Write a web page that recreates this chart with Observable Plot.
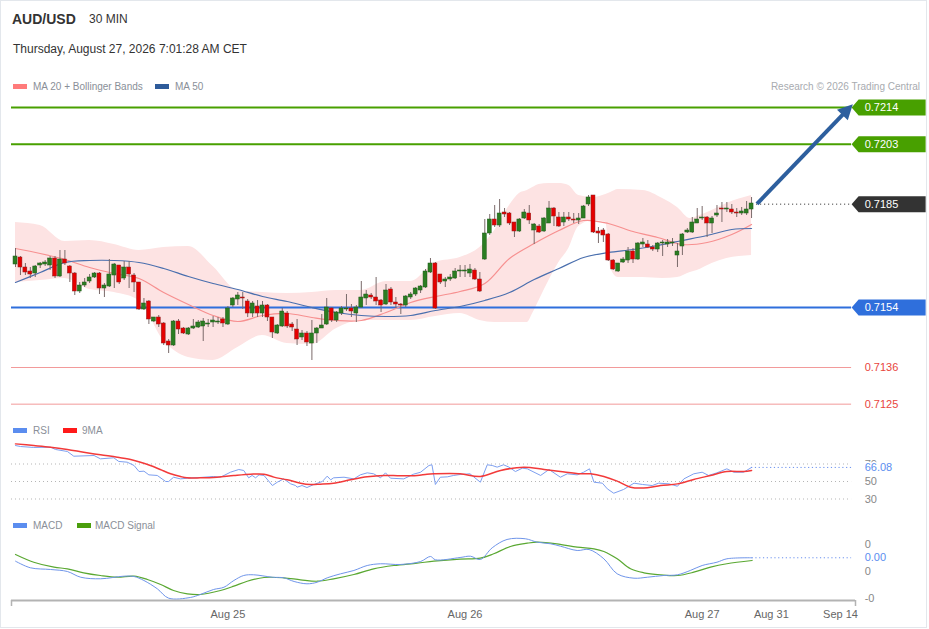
<!DOCTYPE html>
<html><head><meta charset="utf-8">
<script src="https://cdn.jsdelivr.net/npm/d3@7"></script>
<script src="https://cdn.jsdelivr.net/npm/@observablehq/plot@0.6"></script>
<style>
body{margin:0;background:#fff;font-family:"Liberation Sans",Arial,sans-serif;}
#wrap{position:relative;width:929px;height:629px;overflow:hidden;background:#fff;}
#frame{position:absolute;left:0;top:0;width:925px;height:626px;border:1px solid #e3e7ec;}
.t{position:absolute;white-space:nowrap;line-height:1;}
.sw{position:absolute;width:14px;height:5px;}
.panel{position:absolute;left:0;}
</style></head><body>
<div id="wrap">
  <div id="frame"></div>
  <div class="t" style="left:12px;top:12px;font-size:14px;font-weight:bold;color:#333">AUD/USD</div>
  <div class="t" style="left:89px;top:13px;font-size:12px;color:#333">30 MIN</div>
  <div class="t" style="left:13px;top:43px;font-size:12px;color:#333">Thursday, August 27, 2026 7:01:28 AM CET</div>
  <div class="sw" style="left:13px;top:84px;background:#ff7b7b"></div>
  <div class="t" style="left:33px;top:81.5px;font-size:10px;color:#8a8f98">MA 20 + Bollinger Bands</div>
  <div class="sw" style="left:155px;top:84px;background:#2e5b9a"></div>
  <div class="t" style="left:175px;top:81.5px;font-size:10px;color:#8a8f98">MA 50</div>
  <div class="t" style="right:9px;top:81.5px;font-size:10px;color:#a8abb0">Research © 2026 Trading Central</div>
  <div class="sw" style="left:13px;top:428px;background:#5b8def"></div>
  <div class="t" style="left:33px;top:425.5px;font-size:10px;color:#8a8f98">RSI</div>
  <div class="sw" style="left:63px;top:428px;background:#ff1a1a"></div>
  <div class="t" style="left:82px;top:425.5px;font-size:10px;color:#8a8f98">9MA</div>
  <div class="sw" style="left:13px;top:523px;background:#5b8def"></div>
  <div class="t" style="left:33px;top:520.5px;font-size:10px;color:#8a8f98">MACD</div>
  <div class="sw" style="left:77px;top:523px;background:#4a9e0c"></div>
  <div class="t" style="left:95px;top:520.5px;font-size:10px;color:#8a8f98">MACD Signal</div>
  <div id="main" class="panel" style="top:95px"></div>
  <div id="rsi" class="panel" style="top:440px"></div>
  <div id="macd" class="panel" style="top:530px"></div>
</div>
<script>
// ---------- DATA ----------
const opens = [
0.71669,0.71690,0.71660,0.71648,0.71642,0.71666,0.71669,0.71666,0.71687,0.71633,
0.71684,0.71663,0.71642,0.71588,0.71606,0.71618,0.71630,0.71642,0.71597,0.71603,
0.71636,0.71666,0.71627,0.71660,0.71636,0.71615,0.71534,0.71558,0.71498,0.71510,
0.71492,0.71438,0.71426,0.71498,0.71477,0.71459,0.71477,0.71480,0.71483,0.71489,
0.71495,0.71495,0.71504,0.71489,0.71546,0.71564,0.71570,0.71558,0.71522,0.71543,
0.71522,0.71546,0.71510,0.71462,0.71483,0.71522,0.71489,0.71474,0.71450,0.71462,
0.71432,0.71462,0.71477,0.71489,0.71537,0.71501,0.71522,0.71534,0.71537,0.71522,
0.71540,0.71567,0.71576,0.71570,0.71561,0.71549,0.71594,0.71555,0.71549,0.71546,
0.71570,0.71579,0.71591,0.71600,0.71645,0.71672,0.71639,0.71618,0.71624,0.71627,
0.71648,0.71648,0.71642,0.71651,0.71624,0.71684,0.71762,0.71804,0.71786,0.71825,
0.71822,0.71795,0.71768,0.71807,0.71822,0.71771,0.71783,0.71768,0.71792,0.71837,
0.71810,0.71795,0.71810,0.71804,0.71801,0.71807,0.71849,0.71876,0.71768,0.71771,
0.71759,0.71681,0.71648,0.71675,0.71681,0.71708,0.71684,0.71729,0.71729,0.71720,
0.71714,0.71732,0.71729,0.71732,0.71696,0.71723,0.71765,0.71765,0.71792,0.71807,
0.71810,0.71792,0.71816,0.71837,0.71834,0.71834,0.71825,0.71822,0.71822,0.71834];
const highs = [
0.71717,0.71693,0.71672,0.71660,0.71666,0.71675,0.71681,0.71693,0.71693,0.71711,
0.71711,0.71666,0.71645,0.71615,0.71627,0.71639,0.71645,0.71645,0.71612,0.71684,
0.71672,0.71666,0.71678,0.71678,0.71642,0.71615,0.71567,0.71561,0.71510,0.71516,
0.71495,0.71444,0.71501,0.71504,0.71480,0.71480,0.71504,0.71501,0.71507,0.71504,
0.71513,0.71510,0.71510,0.71543,0.71570,0.71585,0.71585,0.71564,0.71558,0.71561,
0.71558,0.71549,0.71510,0.71489,0.71537,0.71528,0.71495,0.71504,0.71471,0.71468,
0.71501,0.71480,0.71519,0.71567,0.71540,0.71528,0.71543,0.71579,0.71549,0.71546,
0.71618,0.71591,0.71582,0.71630,0.71564,0.71609,0.71600,0.71570,0.71552,0.71576,
0.71585,0.71600,0.71606,0.71654,0.71687,0.71675,0.71639,0.71630,0.71639,0.71657,
0.71666,0.71666,0.71669,0.71657,0.71645,0.71804,0.71819,0.71846,0.71864,0.71837,
0.71825,0.71795,0.71807,0.71834,0.71846,0.71792,0.71789,0.71810,0.71858,0.71840,
0.71825,0.71825,0.71825,0.71822,0.71822,0.71846,0.71876,0.71876,0.71780,0.71777,
0.71762,0.71684,0.71672,0.71690,0.71720,0.71717,0.71735,0.71747,0.71741,0.71726,
0.71735,0.71741,0.71744,0.71747,0.71732,0.71762,0.71777,0.71810,0.71837,0.71843,
0.71813,0.71813,0.71846,0.71855,0.71855,0.71849,0.71837,0.71840,0.71858,0.71870];
const lows = [
0.71660,0.71636,0.71636,0.71627,0.71630,0.71657,0.71663,0.71651,0.71627,0.71630,
0.71666,0.71615,0.71576,0.71582,0.71600,0.71612,0.71627,0.71579,0.71570,0.71600,
0.71597,0.71609,0.71621,0.71597,0.71585,0.71531,0.71531,0.71489,0.71495,0.71480,
0.71426,0.71402,0.71423,0.71459,0.71459,0.71456,0.71474,0.71477,0.71438,0.71480,
0.71480,0.71489,0.71480,0.71486,0.71540,0.71546,0.71534,0.71510,0.71510,0.71510,
0.71510,0.71498,0.71447,0.71459,0.71480,0.71477,0.71468,0.71426,0.71441,0.71423,
0.71381,0.71432,0.71477,0.71486,0.71495,0.71495,0.71516,0.71528,0.71510,0.71495,
0.71537,0.71546,0.71564,0.71546,0.71525,0.71546,0.71546,0.71537,0.71519,0.71540,
0.71564,0.71573,0.71582,0.71597,0.71642,0.71534,0.71609,0.71600,0.71618,0.71624,
0.71630,0.71630,0.71630,0.71621,0.71585,0.71681,0.71756,0.71780,0.71780,0.71810,
0.71786,0.71750,0.71765,0.71804,0.71789,0.71729,0.71762,0.71765,0.71792,0.71783,
0.71780,0.71783,0.71798,0.71792,0.71789,0.71807,0.71843,0.71762,0.71732,0.71735,
0.71678,0.71651,0.71645,0.71672,0.71672,0.71672,0.71681,0.71720,0.71717,0.71708,
0.71705,0.71693,0.71720,0.71723,0.71660,0.71696,0.71762,0.71762,0.71792,0.71801,
0.71750,0.71762,0.71810,0.71795,0.71825,0.71819,0.71810,0.71816,0.71816,0.71807];
const closes = [
0.71693,0.71660,0.71645,0.71639,0.71663,0.71672,0.71675,0.71687,0.71633,0.71684,
0.71672,0.71642,0.71588,0.71606,0.71615,0.71630,0.71642,0.71597,0.71606,0.71639,
0.71669,0.71615,0.71660,0.71639,0.71615,0.71534,0.71552,0.71504,0.71510,0.71489,
0.71432,0.71426,0.71498,0.71474,0.71462,0.71477,0.71483,0.71495,0.71498,0.71492,
0.71501,0.71498,0.71492,0.71537,0.71567,0.71576,0.71567,0.71522,0.71552,0.71522,
0.71546,0.71510,0.71465,0.71486,0.71528,0.71483,0.71480,0.71444,0.71462,0.71435,
0.71462,0.71477,0.71486,0.71540,0.71501,0.71525,0.71537,0.71537,0.71528,0.71540,
0.71570,0.71579,0.71570,0.71558,0.71546,0.71591,0.71555,0.71549,0.71546,0.71573,
0.71579,0.71597,0.71603,0.71648,0.71672,0.71537,0.71615,0.71624,0.71630,0.71648,
0.71651,0.71651,0.71654,0.71624,0.71588,0.71762,0.71804,0.71786,0.71822,0.71819,
0.71792,0.71768,0.71804,0.71825,0.71801,0.71789,0.71765,0.71807,0.71837,0.71813,
0.71783,0.71810,0.71804,0.71801,0.71807,0.71843,0.71870,0.71765,0.71762,0.71756,
0.71681,0.71654,0.71672,0.71684,0.71708,0.71684,0.71732,0.71735,0.71720,0.71714,
0.71732,0.71735,0.71735,0.71735,0.71708,0.71759,0.71771,0.71795,0.71804,0.71810,
0.71792,0.71807,0.71822,0.71834,0.71837,0.71825,0.71822,0.71828,0.71834,0.71852];

// moving averages, read at every 5th candle
const maIdx = [0,5,10,15,20,25,30,35,40,45,50,55,60,65,70,75,80,85,90,95,100,105,110,115,120,125,130,135,140,145,149];
const ma20 = [0.71717,0.71702,0.71684,0.71660,0.71642,0.71627,0.71585,0.71549,0.71516,0.71498,0.71516,0.71522,0.71510,0.71501,0.71501,0.71525,0.71555,0.71573,0.71588,0.71612,0.71687,0.71732,0.71771,0.71801,0.71792,0.71768,0.71750,0.71729,0.71735,0.71759,0.71789];
const ma50 = [0.71615,0.71645,0.71675,0.71681,0.71681,0.71675,0.71657,0.71633,0.71612,0.71594,0.71573,0.71558,0.71540,0.71525,0.71516,0.71513,0.71516,0.71531,0.71543,0.71561,0.71585,0.71624,0.71657,0.71690,0.71705,0.71714,0.71726,0.71741,0.71756,0.71774,0.71777];

// Bollinger band edges
const bbIdx = [0,5,10,15,20,25,30,35,40,45,50,55,60,65,70,75,80,85,90,94,97,100,102,103.6,104.7,106,108,110,112,114,117,119.5,120.5,122,127,131,134,136.6,138,141,144,149];
const bbUpper = [0.71795,0.71786,0.71738,0.71741,0.71729,0.71711,0.71720,0.71723,0.71663,0.71591,0.71585,0.71582,0.71585,0.71591,0.71591,0.71618,0.71618,0.71675,0.71690,0.71720,0.71771,0.71846,0.71882,0.71891,0.71900,0.71909,0.71912,0.71912,0.71906,0.71876,0.71870,0.71879,0.71885,0.71894,0.71891,0.71867,0.71840,0.71807,0.71813,0.71831,0.71852,0.71876];
const bbLower = [0.71615,0.71621,0.71627,0.71594,0.71585,0.71561,0.71441,0.71390,0.71381,0.71420,0.71456,0.71432,0.71429,0.71477,0.71501,0.71501,0.71501,0.71513,0.71522,0.71501,0.71495,0.71495,0.71495,0.71495,0.71522,0.71561,0.71621,0.71675,0.71717,0.71783,0.71801,0.71795,0.71657,0.71630,0.71630,0.71627,0.71630,0.71645,0.71651,0.71672,0.71687,0.71696];

// horizontal levels
const levelValues = [0.7214, 0.7203, 0.7185, 0.7154, 0.7136, 0.7125];
const levelLabels = ["0.7214", "0.7203", "0.7185", "0.7154", "0.7136", "0.7125"];
const levelKinds  = ["target", "target", "last", "pivot", "support", "support"];

// forecast arrow (candle index, price)
const arrowFrom = [150.1, 0.71851];
const arrowTo   = [169.5, 0.72150];

// RSI and its 9-period MA
const rsiIdx = [0,1,3.7,7.1,8.1,10.5,11.8,15.9,17.2,19.9,20.9,22.6,24,25,26,27,28.7,30.4,31,32,33.4,34.8,37.4,40.1,41.5,43.5,45.2,46.2,47.2,47.9,48.6,49.3,50.3,52,53,54.3,55.7,56.7,57,58,59,60.4,62.1,63.1,63.8,64.4,66.5,68.5,69.8,71.2,72.5,73.9,74.9,75.9,78.6,80.6,82,83.7,84.3,85,86,87.4,88.7,90,92,94.1,95.5,96.5,97.5,98.8,99.9,101.2,102.6,103.6,106.3,108,110.3,111.7,113.7,115,116.2,117.1,118.8,119.8,121.1,123.1,125.2,126.9,128.9,130.2,132.3,134,135.3,137.3,139,140.3,142,144,145.4,147.4,149];
const rsiVal = [91.1,90.0,88.9,89.2,86.6,84.3,78.9,79.7,75.9,77.1,72.9,72.1,68.3,61.4,61.8,57.6,56.9,50,50,54.9,53,53.8,54.6,55.7,54.9,60.6,63.7,62.6,54.2,56.9,54.2,57.6,56.9,45.4,49.2,53,47.3,45.4,43.5,45.4,43.1,46.6,50,56.1,51.9,54.2,54.9,53,57.6,59.9,58.8,54.2,59.9,53.8,53,58.4,60.6,68.3,69.1,46.6,54.9,55.3,56.9,58,58.8,49.2,69.1,68.3,66.4,69.1,66.4,61.4,65.2,64.5,56.9,63.7,54.9,58.8,57.6,60.6,64.5,49.2,48.1,41.6,36.6,40.9,48.1,46.6,45.4,48.1,47.3,44.6,53,58.8,60.6,56.9,59.9,64.5,60.6,60.6,66.08];
const rsiMaIdx = [0,3.7,7.1,10.5,13.8,17.2,20.6,23.3,25.3,27.3,29.3,31.4,33.4,34.7,37.4,40.8,44.2,47.6,50.3,52.3,55,57.7,59.7,61.7,64.4,67.8,71.2,74.6,77.9,81.3,83.3,84.7,90,94.1,98.2,102.9,107,110.3,114.4,116.4,119.1,121.8,124.5,127.9,130.6,134,137.3,140.7,144,147.4,149];
const rsiMaVal = [93.0,91.1,89.2,86.6,83.5,80.5,77.8,75.1,72.1,68.3,63.7,58.8,55.7,54.2,54.2,55.0,56.9,58.4,58.4,55.0,51.9,48.1,46.6,47.0,48.1,51.9,55.3,56.9,56.5,56.9,58.4,58.8,58.8,55.7,62.6,66.4,63.7,61.4,58.8,58.8,55.7,50.4,43.5,42.8,45.4,47.3,52.3,56.9,61.4,61.4,62.6];
const rsiTicks = [70, 50, 30];
const rsiTickLabels = ["70", "50", "30"];
const rsiLastLabel = "66.08";

// MACD and signal
const macdIdx = [0,3,7.1,10.5,13.2,17.2,21.9,24,26,28.7,31,35.4,37.4,40.1,42.2,44.2,46.2,48.2,52,54.3,56.4,59,61.1,63.1,65.8,68.5,71.2,73.9,77.9,82,84,85,90,92.1,94.1,96.5,99.5,103.2,105.6,108.3,110.3,113.7,116.1,119.1,121.8,125.2,127.9,131.2,134,136.6,139,142,144,149.1];
const macdVal = [1.91e-4,0.69e-4,0.37e-4,0,-1.06e-4,-1.35e-4,-0.87e-4,-0.93e-4,-1.67e-4,-3.2e-4,-4.94e-4,-4.81e-4,-4.26e-4,-3.33e-4,-2.91e-4,-1.67e-4,-0.74e-4,-0.61e-4,-1.06e-4,-1.17e-4,-1.85e-4,-2.28e-4,-1.98e-4,-1.17e-4,-0.43e-4,0.19e-4,1.11e-4,1.43e-4,1.3e-4,1.85e-4,2.78e-4,2.17e-4,2.59e-4,2.83e-4,2.22e-4,4.39e-4,5.93e-4,6.06e-4,5.43e-4,5.13e-4,4.69e-4,3.89e-4,4.07e-4,2.35e-4,-0.43e-4,-1.24e-4,-1.06e-4,-0.74e-4,-0.61e-4,0.19e-4,1.11e-4,1.72e-4,2.35e-4,2.54e-4];
const sigIdx = [0,3.7,7.8,10.5,13.8,17.2,20.6,24,26.7,29.4,32,34.8,37.4,41.5,44.2,46.9,50.3,54.3,57.7,61.1,64.4,68.5,72.5,76.6,81.3,84.7,90,94.1,96.8,100.2,103.6,105.6,109.6,113.7,117.1,119.1,121.8,124.5,127.2,130.6,134,137.3,140.7,144,149.1];
const sigVal = [3.15e-4,1.72e-4,0.8e-4,0.5e-4,-0.24e-4,-0.74e-4,-1.06e-4,-0.87e-4,-1.48e-4,-2.41e-4,-3.52e-4,-4.13e-4,-4.26e-4,-3.52e-4,-2.72e-4,-1.8e-4,-1.11e-4,-1.17e-4,-1.54e-4,-1.8e-4,-1.35e-4,-0.56e-4,0.5e-4,1.11e-4,1.54e-4,1.91e-4,2.3e-4,2.46e-4,3.28e-4,4.63e-4,5.24e-4,5.43e-4,5.13e-4,4.5e-4,4.2e-4,3.7e-4,2.35e-4,0.5e-4,-0.24e-4,-0.61e-4,-0.74e-4,-0.13e-4,0.8e-4,1.43e-4,2.04e-4];
const macdTicks = [0.0005, 0, -0.0005];
const macdTickLabels = ["0", "0", "-0"];
const macdLastLabel = "0.00";

// time axis (candle index of each label)
const timeTickIdx = [43, 91, 139, 153, 167];
const timeTickLabels = ["Aug 25", "Aug 26", "Aug 27", "Aug 31", "Sep 14"];

// ---------- LAYOUT / STYLE ----------
const W = 929, mL = 11, mR = 74;
const xDomain = [-0.81, 170.04];
const TAG_X = 169.25, LABEL_X = 171.9;
const FONT = "Liberation Sans, Arial, sans-serif";
const baseStyle = {fontFamily: FONT, background: "transparent", overflow: "visible"};
const kindColor = {target: "#48a000", last: "#333333", pivot: "#2f6fdc", support: "#e8453c"};

const candles = opens.map((o, i) => ({i, o, h: highs[i], l: lows[i], c: closes[i], up: closes[i] >= o}));
const mas = maIdx.map((i, k) => ({i, ma20: ma20[k], ma50: ma50[k]}));
const bands = bbIdx.map((i, k) => ({i, hi: bbUpper[k], lo: bbLower[k]}));
const levels = levelValues.map((v, k) => ({v, label: levelLabels[k], kind: levelKinds[k], color: kindColor[levelKinds[k]]}));
const tagLevels = levels.filter(d => d.kind !== "support");
const fullLines = levels.filter(d => d.kind === "target" || d.kind === "pivot");
const supportLines = levels.filter(d => d.kind === "support");
const lastLevel = levels.filter(d => d.kind === "last");
const lastIdx = candles.length - 1;

const tagShape = {draw(ctx) {
  ctx.moveTo(0, 0); ctx.lineTo(7, -8); ctx.lineTo(74, -8); ctx.lineTo(74, 8); ctx.lineTo(7, 8); ctx.closePath();
}};
const headShape = {draw(ctx) {
  ctx.moveTo(0, 0); ctx.lineTo(-7.5, 15); ctx.lineTo(7.5, 15); ctx.closePath();
}};

const yMain = [0.71216, 0.72176];
const main = Plot.plot({
  width: W, height: 320, marginLeft: mL, marginRight: mR, marginTop: 0, marginBottom: 0,
  x: {domain: xDomain, axis: null},
  y: {domain: yMain, axis: null},
  style: baseStyle,
  marks: [
    Plot.areaY(bands, {x: "i", y1: "lo", y2: "hi", fill: "#fde3e3", curve: "monotone-x"}),
    Plot.ruleY(fullLines, {y: "v", x1: xDomain[0], x2: TAG_X, stroke: "color", strokeWidth: 2}),
    Plot.ruleY(supportLines, {y: "v", x1: xDomain[0], x2: TAG_X, stroke: "#f29a9a", strokeWidth: 1}),
    Plot.line(mas, {x: "i", y: "ma20", stroke: "#f79090", strokeWidth: 1.2, curve: "catmull-rom"}),
    Plot.line(mas, {x: "i", y: "ma50", stroke: "#4a6fae", strokeWidth: 1.2, curve: "catmull-rom"}),
    Plot.ruleX(candles, {x: "i", y1: "l", y2: "h", stroke: "#7a6a6a", strokeWidth: 1}),
    Plot.rect(candles, {x1: d => d.i - 0.4, x2: d => d.i + 0.4, y1: "o", y2: "c",
      fill: d => d.up ? "#2b7d22" : "#e50000", stroke: d => d.up ? "#1f5a18" : "#8b2020", strokeWidth: 0.5}),
    Plot.ruleY(lastLevel, {y: "v", x1: lastIdx + 1, x2: TAG_X, stroke: "#444", strokeDasharray: "1.2,2.8"}),
    Plot.link([{a: arrowFrom, b: arrowTo}], {x1: d => d.a[0], y1: d => d.a[1],
      x2: d => d.a[0] + (d.b[0] - d.a[0]) * 0.92, y2: d => d.a[1] + (d.b[1] - d.a[1]) * 0.92,
      stroke: "#2d5f9e", strokeWidth: 4}),
    Plot.dot([arrowTo], {x: d => d[0], y: d => d[1], symbol: headShape, rotate: 44, fill: "#2d5f9e", stroke: "none"}),
    Plot.dot(tagLevels, {x: () => TAG_X, y: "v", symbol: tagShape, fill: "color", stroke: "none"}),
    Plot.text(tagLevels, {x: () => LABEL_X, y: "v", text: "label", fill: "white", textAnchor: "start", fontSize: 11, fontFamily: FONT}),
    Plot.text(supportLines, {x: () => LABEL_X, y: "v", text: "label", fill: "color", textAnchor: "start", fontSize: 11, fontFamily: FONT})
  ]
});
document.getElementById("main").appendChild(main);

const rsiData = rsiIdx.map((i, k) => ({i, v: rsiVal[k]}));
const rsiMaData = rsiMaIdx.map((i, k) => ({i, v: rsiMaVal[k]}));
const rsiLast = rsiData[rsiData.length - 1];
const rsiTickData = rsiTicks.map((v, k) => ({v, label: rsiTickLabels[k]}));
const rsi = Plot.plot({
  width: W, height: 70, marginLeft: mL, marginRight: mR, marginTop: 0, marginBottom: 0,
  x: {domain: xDomain, axis: null},
  y: {domain: [16.86, 96.86], axis: null},
  style: baseStyle,
  marks: [
    Plot.ruleY(rsiTicks, {x1: xDomain[0], x2: TAG_X, stroke: "#b5b5b5", strokeDasharray: "1,3"}),
    Plot.line(rsiData, {x: "i", y: "v", stroke: "#7d9ff0", strokeWidth: 1}),
    Plot.line(rsiMaData, {x: "i", y: "v", stroke: "#f23a3a", strokeWidth: 1.5, curve: "catmull-rom"}),
    Plot.ruleY([rsiLast], {y: "v", x1: d => d.i, x2: TAG_X, stroke: "#6a90ee", strokeDasharray: "1.2,2.6"}),
    Plot.text(rsiTickData, {x: () => LABEL_X, y: "v", text: "label", fill: "#888", textAnchor: "start", fontSize: 11, fontFamily: FONT}),
    Plot.text([rsiLast], {x: () => LABEL_X, y: "v", text: () => rsiLastLabel, fill: "#5b8def", stroke: "white", strokeWidth: 3, paintOrder: "stroke", textAnchor: "start", fontSize: 11, fontFamily: FONT})
  ]
});
document.getElementById("rsi").appendChild(rsi);

const macdData = macdIdx.map((i, k) => ({i, v: macdVal[k]}));
const sigData = sigIdx.map((i, k) => ({i, v: sigVal[k]}));
const macdLast = macdData[macdData.length - 1];
const macdTickData = macdTicks.map((v, k) => ({v, label: macdTickLabels[k]}));
const yMacd = [-0.000537, 0.000759];
const timeTicks = timeTickIdx.map((i, k) => ({i, label: timeTickLabels[k]}));
const macd = Plot.plot({
  width: W, height: 99, marginLeft: mL, marginRight: mR, marginTop: 0, marginBottom: 29,
  x: {domain: xDomain, axis: null, label: null},
  y: {domain: yMacd, axis: null},
  style: baseStyle,
  marks: [
    Plot.line(sigData, {x: "i", y: "v", stroke: "#5aa832", strokeWidth: 1.2, curve: "catmull-rom"}),
    Plot.line(macdData, {x: "i", y: "v", stroke: "#6f95ea", strokeWidth: 1, curve: "catmull-rom"}),
    Plot.ruleY([macdLast], {y: "v", x1: d => d.i, x2: TAG_X, stroke: "#6a90ee", strokeDasharray: "1.2,2.6"}),
    Plot.text(macdTickData, {x: () => LABEL_X, y: "v", text: "label", fill: "#888", textAnchor: "start", fontSize: 11, fontFamily: FONT}),
    Plot.text([macdLast], {x: () => LABEL_X, y: "v", text: () => macdLastLabel, fill: "#5b8def", textAnchor: "start", fontSize: 11, fontFamily: FONT}),
    Plot.ruleY([yMacd[0]], {stroke: "#b3b3b3", strokeWidth: 2}),
    Plot.axisX({ticks: xDomain, tickSize: 6, tickFormat: () => "", label: null, stroke: "#b3b3b3", strokeWidth: 1.5}),
    Plot.text(timeTicks, {x: "i", y: () => yMacd[0], text: "label", dy: 14, fill: "#666", fontSize: 11, fontFamily: FONT})
  ]
});
document.getElementById("macd").appendChild(macd);
</script>
</body></html>
